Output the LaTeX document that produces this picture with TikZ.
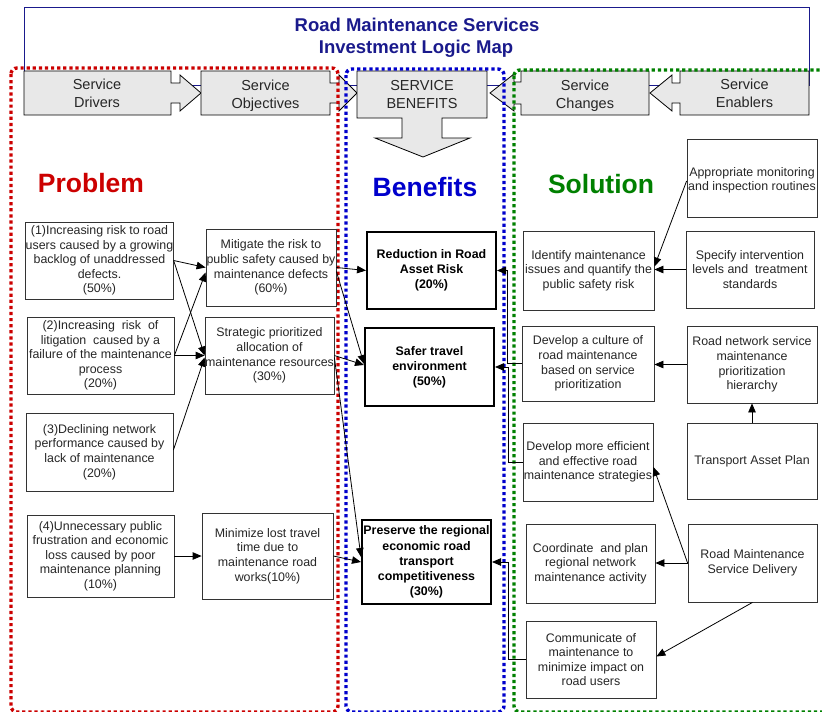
\documentclass[tikz,border=0pt]{standalone}
\usepackage{fontspec}
\setmainfont{Liberation Sans}
\usetikzlibrary{arrows.meta,calc}
\definecolor{navy}{RGB}{26,26,140}
\definecolor{pred}{RGB}{204,0,0}
\definecolor{pblue}{RGB}{0,0,204}
\definecolor{pgreen}{RGB}{0,128,0}
\definecolor{hdrfill}{RGB}{232,232,232}
\newcommand\bx[7]{\node[#6, minimum width={(#4-#2)*1pt}, minimum height={(#5-#3)*1pt}] (#1) at ({(#2+#4)/2},{(#3+#5)/2}) {#7};}
\begin{document}
\begin{tikzpicture}[x=1pt,y=-1pt,
  lbox/.style={draw=black!80, line width=0.8pt, inner sep=0pt, align=center,
    font=\fontsize{12.4}{14.6}\selectfont, text=black!85},
  benefit/.style={lbox, draw=black, line width=2pt,
    font=\bfseries\fontsize{12.4}{15.2}\selectfont, text=black},
  conn/.style={-{Triangle[length=9pt,width=7.5pt]}, line width=0.8pt, black},
  hdrshape/.style={draw=black, line width=0.8pt, fill=hdrfill},
  hdrtext/.style={align=center, font=\fontsize{14.5}{18}\selectfont, text=black!85, inner sep=0pt},
  heading/.style={anchor=base, font=\bfseries\fontsize{26.5}{30}\selectfont, inner sep=0pt},
  dotline/.style={line width=3.4pt, dash pattern=on 3.2pt off 2.9pt, rounded corners=6pt},
  titletext/.style={anchor=base, font=\bfseries\fontsize{18.5}{22}\selectfont, text=navy, inner sep=0pt}
]
\useasboundingbox (0,0) rectangle (822,712);
\clip (0,0) rectangle (822,712);
\fill[white] (0,0) rectangle (822,712);

% title box
\draw[navy, line width=0.8pt] (24,7) rectangle (809,85);
\node[titletext] (title1) at (417,31) {Road Maintenance Services};
\node[titletext] (title2) at (416,53) {Investment Logic Map};

% header shapes
\draw[hdrshape] (24,71) -- (171,71) -- (171,83) -- (180,83) -- (180,75) -- (201,93) -- (180,111) -- (180,103) -- (171,103) -- (171,115) -- (24,115) -- cycle;
\draw[hdrshape] (201,71) -- (330,71) -- (330,83) -- (339,83) -- (339,75) -- (357,93) -- (339,111) -- (339,103) -- (330,103) -- (330,115) -- (201,115) -- cycle;
\draw[hdrshape] (357,71) -- (487,71) -- (487,118) -- (442,118) -- (442,138) -- (470,138) -- (423,157) -- (375,138) -- (402,138) -- (402,118) -- (357,118) -- cycle;
\draw[hdrshape] (649,71) -- (521,71) -- (521,82) -- (514,82) -- (514,74) -- (490,93) -- (514,111) -- (514,104) -- (521,104) -- (521,115) -- (649,115) -- cycle;
\draw[hdrshape] (809,71) -- (680,71) -- (680,83) -- (672,83) -- (672,75) -- (650,93) -- (672,111) -- (672,103) -- (680,103) -- (680,115) -- (809,115) -- cycle;
\node[hdrtext] (hdrivers) at (97,93.5) {Service\\Drivers};
\node[hdrtext] (hobj) at (265.5,95.5) {Service\\Objectives};
\node[hdrtext] (hben) at (422,95) {SERVICE\\BENEFITS};
\node[hdrtext] (hchg) at (585,95.5) {Service\\Changes};
\node[hdrtext] (henb) at (744.5,93.5) {Service\\Enablers};

% dotted regions
\draw[pred, dotline] (11,68) rectangle (338,712);
\draw[pblue, dotline] (346,69) rectangle (504,712);
\draw[pgreen, dotline] (514,70) rectangle (840,712);

% headings
\node[heading, text=pred] (hproblem) at (91,192) {Problem};
\node[heading, text=pblue] (hbenefits) at (425,196) {Benefits};
\node[heading, text=pgreen] (hsolution) at (601,193) {Solution};

% problem boxes
\bx{P1}{26}{222}{173}{299}{lbox}{(1)Increasing risk to road\\users caused by a growing\\backlog of unaddressed\\defects.\\(50\%)}
\bx{P2}{27}{317}{174}{394}{lbox}{(2)Increasing\ \ risk\ \ of\\litigation\ \ caused by a\\failure of the maintenance\\process\\(20\%)}
\bx{P3}{26}{413}{173}{491}{lbox}{(3)Declining network\\performance caused by\\lack of maintenance\\(20\%)}
\bx{P4}{27}{515}{174}{597}{lbox}{(4)Unnecessary public\\frustration and economic\\loss caused by poor\\maintenance planning\\(10\%)}

% objectives
\bx{O1}{206}{229}{336}{306}{lbox}{Mitigate the risk to\\public safety caused by\\maintenance defects\\(60\%)}
\bx{O2}{205}{317}{334}{394}{lbox}{Strategic prioritized\\allocation of\\maintenance resources\\(30\%)}
\bx{O3}{202}{513}{333}{599}{lbox}{Minimize lost travel\\time due to\\maintenance road\\works(10\%)}

% benefits
\bx{B1}{367}{232}{496}{309}{benefit}{Reduction in Road\\Asset Risk\\(20\%)}
\bx{B2}{365}{328}{494}{406}{benefit}{Safer travel\\environment\\(50\%)}
\bx{B3}{362}{520}{491}{604}{benefit}{Preserve the regional\\economic road\\transport\\competitiveness\\(30\%)}

% changes
\bx{C1}{523}{231}{654}{310}{lbox}{Identify maintenance\\issues and quantify the\\public safety risk}
\bx{C2}{522}{326}{654}{401}{lbox}{Develop a culture of\\road maintenance\\based on service\\prioritization}
\bx{C3}{523}{423}{653}{501}{lbox}{Develop more efficient\\and effective road\\maintenance strategies}
\bx{C4}{526}{524}{655}{603}{lbox}{Coordinate\ \ and plan\\regional network\\maintenance activity}
\bx{C5}{526}{621}{656}{698}{lbox}{Communicate of\\maintenance to\\minimize impact on\\road users}

% enablers
\bx{E1}{687}{139}{817}{217}{lbox, font=\fontsize{12.4}{13}\selectfont, text depth=0pt}{\raisebox{-2pt}{\shortstack{Appropriate monitoring\\[0pt]and inspection routines}}}
\bx{E2}{686}{231}{814}{308}{lbox}{Specify intervention\\levels and\ \ treatment\\standards}
\bx{E3}{687}{326}{817}{403}{lbox}{Road network service\\maintenance\\prioritization\\hierarchy}
\bx{E4}{687}{423}{817}{499}{lbox}{Transport Asset Plan}
\bx{E5}{688}{524}{817}{602}{lbox}{Road Maintenance\\Service Delivery}

% problem -> objectives
\draw[conn] (P1.east) -- (O1.west);
\draw[conn] (P1.east) -- (O2.west);
\draw[conn] (P2.east) -- ($(O1.west)+(0,5)$);
\draw[conn] (P2.east) -- (O2.west);
\draw[conn] ($(P3.east)+(0,-2)$) -- ($(O2.west)+(0,2)$);
\draw[conn] (P4.east) -- (O3.west);

% objectives -> benefits
\draw[conn] (O1.east) -- (B1.west);
\draw[conn] ($(O1.east)+(0,4)$) -- ($(B2.west)+(0,-3)$);
\draw[conn] (O2.east) -- ($(B2.west)+(0,-2)$);
\draw[conn] ($(O2.east)+(0,2)$) -- ($(B3.west)+(0,-5)$);
\draw[conn] (O3.east) -- (B3.west);

% changes -> benefits
\draw[conn] (C2.west) -- ++(-14,0) |- (B1.east);
\draw[conn] (C3.west) -- ++(-14,0) |- (B2.east);
\draw[conn] (C5.west) -- ++(-17,0) |- (B3.east);

% enablers -> changes
\draw[conn] ($(E1.west)+(0,3)$) -- ($(C1.east)+(0,-4)$);
\draw[conn] (E2.west) -- (E2.west -| C1.east);
\draw[conn] (E3.west) -- (E3.west -| C2.east);
\draw[conn] (E4.north) -- (E3.south);
\draw[conn] (E5.west) -- ($(C3.east)+(0,5)$);
\draw[conn] (E5.west) -- (E5.west -| C4.east);
\draw[conn] (E5.south) -- ($(C5.east)+(0,-3)$);
\end{tikzpicture}
\end{document}
